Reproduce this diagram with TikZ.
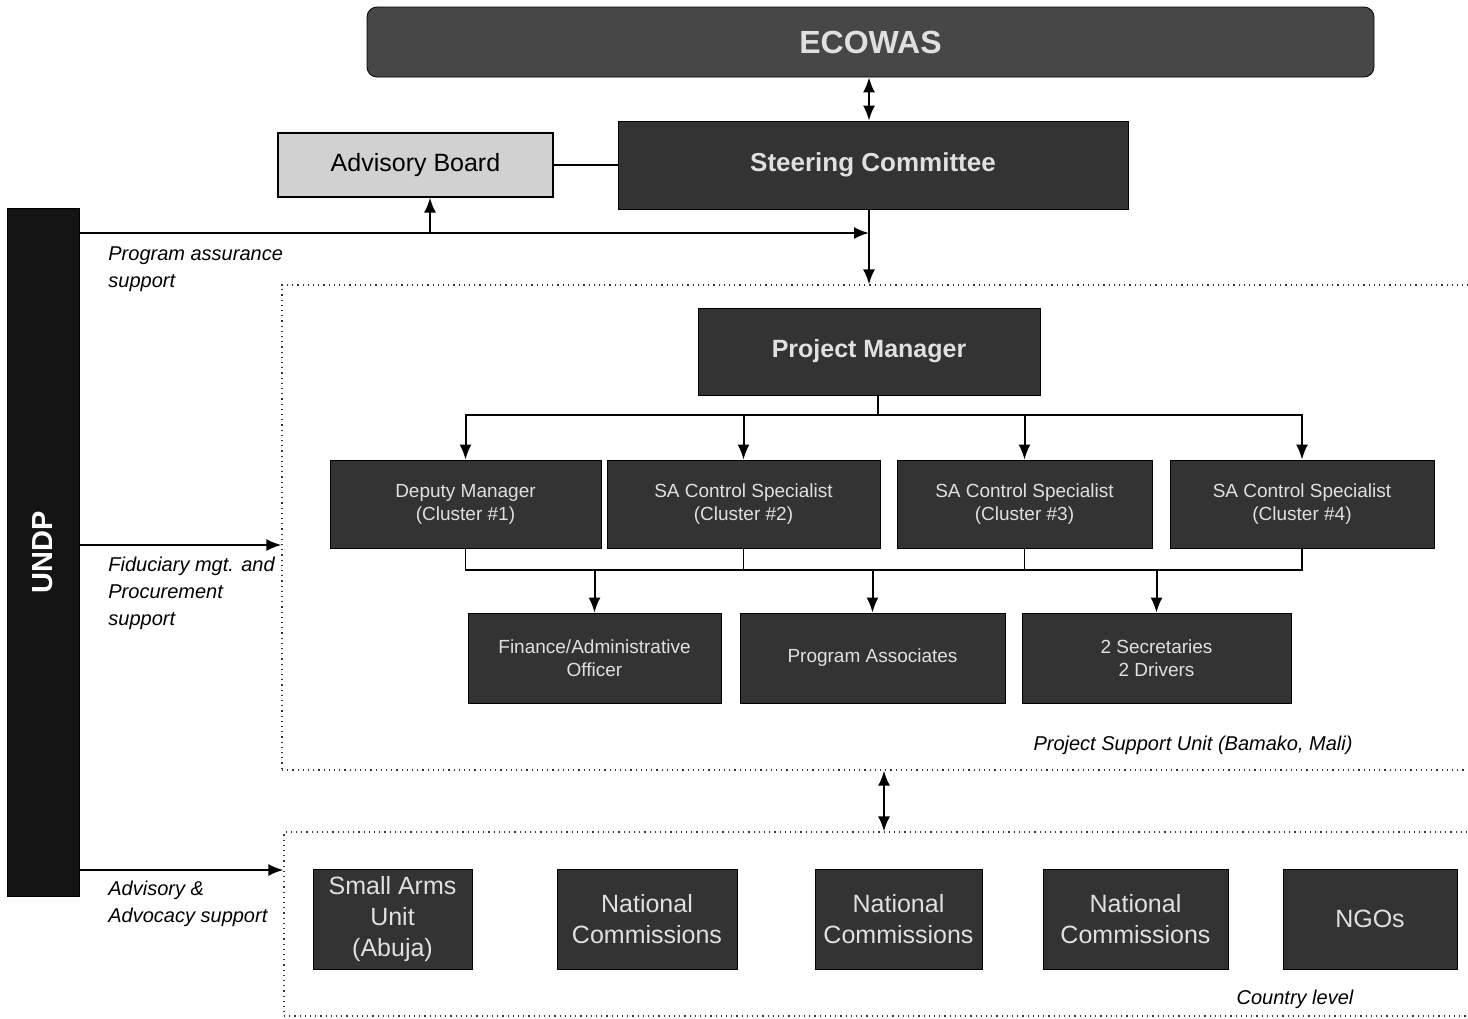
\documentclass[tikz,border=0pt]{standalone}
\usepackage{fontspec}
\setmainfont{Liberation Sans}
\usetikzlibrary{arrows.meta}

\begin{document}
\begin{tikzpicture}[
    x=0.5pt, y=-0.5pt,
    >={Latex[length=7.5pt,width=6pt]},
    link/.style={line width=1pt, black},
    thinlink/.style={line width=0.7pt, black},
    darkbox/.style={draw=black, line width=0.4pt, fill=black!80, text=black!12, align=center, inner sep=0pt},
    staff/.style={darkbox, minimum height=44pt, font=\fontsize{9.5}{11.5}\selectfont},
    local/.style={darkbox, minimum height=50pt, font=\fontsize{12.5}{15.5}\selectfont},
    unitframe/.style={draw=black!80, dotted, line width=0.6pt, inner sep=0pt},
    note/.style={font=\fontsize{10}{13.5}\selectfont\itshape, align=left, inner sep=0pt}
  ]
  \useasboundingbox[fill=white] (0,0) rectangle (1468,1018);

  % Zonas (marcos punteados)
  \node[unitframe, minimum width=594pt, minimum height=242.5pt] (psu) at (876,527.5) {};
  \node[unitframe, minimum width=593pt, minimum height=92pt] (country) at (877,924) {};
  \node[note] (psulabel) at (1193,745) {Project Support Unit (Bamako, Mali)};
  \node[note] (countrylabel) at (1295,999) {Country level};

  % Cabecera
  \node[darkbox, fill=black!72, rounded corners=5pt, minimum width=503.5pt, minimum height=35pt,
        font=\fontsize{16}{19}\selectfont\bfseries] (ecowas) at (870.5,42) {ECOWAS};
  \node[darkbox, minimum width=255pt, minimum height=44pt,
        font=\fontsize{13}{16}\selectfont\bfseries] (steer) at (873,165) {Steering Committee};
  \node[draw=black, line width=0.6pt, fill=black!18, minimum width=137.5pt, minimum height=32pt,
        inner sep=0pt, font=\fontsize{12.5}{15}\selectfont] (advboard) at (415.5,165) {Advisory Board};

  % UNDP
  \node[darkbox, fill=black!92, minimum width=36pt, minimum height=344pt] (undp) at (43,552) {};
  \node[rotate=90, text=white, font=\fontsize{14.5}{17}\selectfont\bfseries] (undptext) at (undp.center) {UNDP};

  % Unidad de apoyo
  \node[darkbox, minimum width=171pt, minimum height=43.5pt,
        font=\fontsize{12.5}{15}\selectfont\bfseries] (pm) at (869,351.5) {Project Manager};

  \node[staff, minimum width=135.5pt] (dep) at (465.5,504) {Deputy Manager\\(Cluster \#1)};
  \node[staff, minimum width=136.5pt] (sa2) at (743.5,504) {SA Control Specialist\\(Cluster \#2)};
  \node[staff, minimum width=127.5pt] (sa3) at (1024.5,504) {SA Control Specialist\\(Cluster \#3)};
  \node[staff, minimum width=132pt] (sa4) at (1302,504) {SA Control Specialist\\(Cluster \#4)};

  \node[staff, minimum width=126.5pt, minimum height=45pt] (fin) at (594.5,658) {Finance/Administrative\\Officer};
  \node[staff, minimum width=132.5pt, minimum height=45pt] (pa) at (872.5,658) {Program Associates};
  \node[staff, minimum width=134.5pt, minimum height=45pt] (sec) at (1156.5,658) {2 Secretaries\\2 Drivers};

  % Nivel pais
  \node[local, minimum width=79.5pt] (sau) at (392.5,919) {Small Arms\\Unit\\(Abuja)};
  \node[local, minimum width=90pt] (nc1) at (647,919) {National\\Commissions};
  \node[local, minimum width=83.5pt] (nc2) at (898.5,919) {National\\Commissions};
  \node[local, minimum width=92.5pt] (nc3) at (1135.5,919) {National\\Commissions};
  \node[local, minimum width=87pt] (ngo) at (1370,919) {NGOs};

  % Puntos de paso
  \coordinate (assur) at (869,233);
  \coordinate (advup) at (430,233);
  \coordinate (split) at (878,415);
  \coordinate (merge) at (880,570);
  \coordinate (fidu) at (0,545);
  \coordinate (advo) at (0,870);
  \coordinate (levels) at (884,800);

  % Conectores superiores
  \draw[link, <->] (assur |- ecowas.south) -- (assur |- steer.north);
  \draw[thinlink] (advboard.east) -- (advboard.east -| steer.west);
  \draw[link, ->] (undp.east |- assur) -- (assur);
  \draw[link, ->] (advup) -- (advup |- advboard.south);
  \draw[link, ->] (assur |- steer.south) -- (assur |- psu.north);

  % Organigrama interno
  \draw[link] (split |- pm.south) -- (split);
  \foreach \b in {dep,sa2,sa3,sa4}
    \draw[link, ->] (split) -| (\b.north);
  \draw[thinlink] (dep.south) |- (merge) -| (sa4.south);
  \draw[thinlink] (sa2.south) -- (sa2.south |- merge);
  \draw[thinlink] (sa3.south) -- (sa3.south |- merge);
  \foreach \b in {fin,pa,sec}
    \draw[link, ->] (\b.north |- merge) -- (\b.north);

  % Apoyo UNDP y enlace entre niveles
  \draw[link, ->] (undp.east |- fidu) -- (psu.west |- fidu);
  \draw[link, ->] (undp.east |- advo) -- (country.west |- advo);
  \draw[link, <->] (psu.south -| levels) -- (country.north -| levels);

  % Etiquetas de apoyo
  \node[note, anchor=north west] (assurtext) at (108,246) {Program assurance\\support};
  \node[note, anchor=north west] (fidutext) at (108,557) {Fiduciary mgt. and\\Procurement\\support};
  \node[note, anchor=north west] (advotext) at (108,881) {Advisory \&\\Advocacy support};
\end{tikzpicture}
\end{document}
